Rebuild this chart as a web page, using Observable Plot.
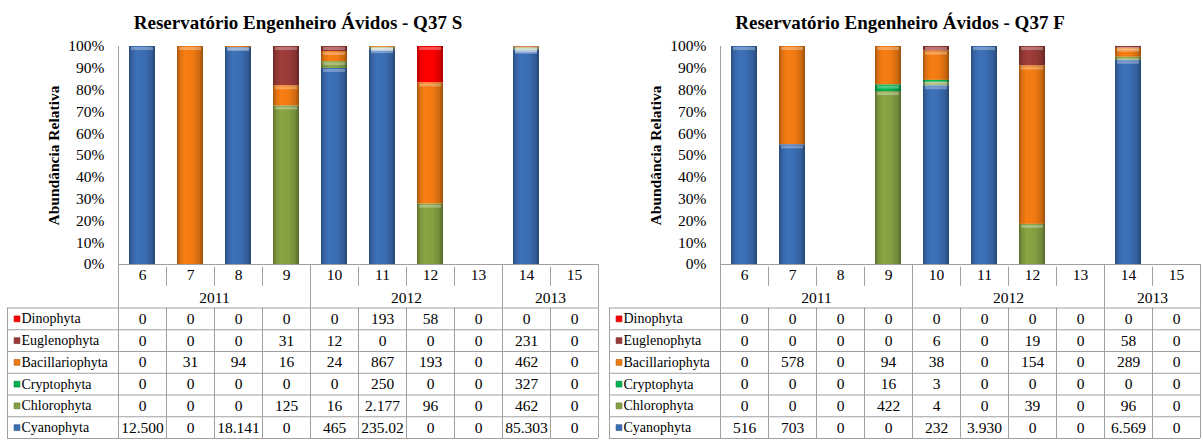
<!DOCTYPE html>
<html><head><meta charset="utf-8">
<script src="https://cdn.jsdelivr.net/npm/d3@7"></script>
<script src="https://cdn.jsdelivr.net/npm/@observablehq/plot@0.6"></script>
<style>
body{margin:0;background:#fff;width:1203px;height:441px;overflow:hidden;font-family:"Liberation Serif","Times New Roman",serif;color:#000;}
.panel{position:absolute;top:0;width:600px;height:441px;}
.title{position:absolute;top:11px;left:0;width:596px;text-align:center;font-weight:bold;font-size:19px;line-height:24px;}
svg text{font-family:"Liberation Serif","Times New Roman",serif !important;}
</style></head><body>
<svg width="0" height="0" style="position:absolute"><defs id="grads"></defs></svg>
<div id="root"></div>
<script>
// ---- categories ----
const months = ["6","7","8","9","10","11","12","13","14","15"];
const monthYears = ["2011","2011","2011","2011","2012","2012","2012","2012","2013","2013"];
const seriesNames = ["Dinophyta","Euglenophyta","Bacillariophyta","Cryptophyta","Chlorophyta","Cyanophyta"]; // table order
const seriesColors = ["#ff0000","#9a3b38","#f07a12","#00b050","#84a042","#3b6db3"];
const yLabel = "Abundância Relativa";

// ---- Q37 S ----
const titleS = "Reservatório Engenheiro Ávidos - Q37 S";
const sDinophyta       = [0, 0, 0, 0, 0, 193, 58, 0, 0, 0];
const sEuglenophyta    = [0, 0, 0, 31, 12, 0, 0, 0, 231, 0];
const sBacillariophyta = [0, 31, 94, 16, 24, 867, 193, 0, 462, 0];
const sCryptophyta     = [0, 0, 0, 0, 0, 250, 0, 0, 327, 0];
const sChlorophyta     = [0, 0, 0, 125, 16, 2177, 96, 0, 462, 0];
const sCyanophyta      = [12500, 0, 18141, 0, 465, 235020, 0, 0, 85303, 0];

// ---- Q37 F ----
const titleF = "Reservatório Engenheiro Ávidos - Q37 F";
const fDinophyta       = [0, 0, 0, 0, 0, 0, 0, 0, 0, 0];
const fEuglenophyta    = [0, 0, 0, 0, 6, 0, 19, 0, 58, 0];
const fBacillariophyta = [0, 578, 0, 94, 38, 0, 154, 0, 289, 0];
const fCryptophyta     = [0, 0, 0, 16, 3, 0, 0, 0, 0, 0];
const fChlorophyta     = [0, 0, 0, 422, 4, 0, 39, 0, 96, 0];
const fCyanophyta      = [516, 703, 0, 0, 232, 3930, 0, 0, 6569, 0];

const FONT = '"Liberation Serif","Times New Roman",serif';
const STYLE = 'background: transparent; color: #000; font-family: "Liberation Serif","Times New Roman",serif; font-size: 15.5px; overflow: visible;';
const GRID = "#a0a0a0";
const stackOrder = seriesNames.slice().reverse(); // Cyanophyta at bottom
const ptFormat = d3.formatLocale({decimal: ",", thousands: ".", grouping: [3], currency: ["R$", ""]}).format(",d");
// Excel clips cell text to the cell width (6 characters here)
const cellText = v => ptFormat(v).slice(0, 6);

// gradients for the 3-D looking bars
const defs = d3.select("#grads");
seriesNames.forEach((s, k) => {
  const c = d3.color(seriesColors[k]);
  const g = defs.append("linearGradient").attr("id", `grad-${s}`)
    .attr("x1", 0).attr("x2", 1).attr("y1", 0).attr("y2", 0);
  [[0, c.darker(1.0)], [0.12, c.darker(0.25)], [0.3, c.brighter(0.1)], [0.6, c], [0.85, c.darker(0.4)], [1, c.darker(1.2)]]
    .forEach(([o, col]) => g.append("stop").attr("offset", o).attr("stop-color", col.formatHex()));
});

function panel(titleText, cols, left) {
  const div = document.createElement("div");
  div.className = "panel";
  div.style.left = left + "px";
  const t = document.createElement("div");
  t.className = "title";
  t.textContent = titleText;
  div.appendChild(t);

  const data = [];
  seriesNames.forEach((s, r) => cols[r].forEach((v, i) =>
    data.push({series: s, row: r, i, month: months[i], year: monthYears[i], value: v})));

  const n = months.length;
  const chart = Plot.plot({
    width: 600, height: 238, marginTop: 10, marginBottom: 10, marginLeft: 118, marginRight: 2,
    style: STYLE,
    x: {domain: [0, n], axis: null},
    y: {domain: [0, 1]},
    color: {domain: seriesNames, range: seriesNames.map(s => `url(#grad-${s})`)},
    marks: [
      Plot.rectY(data, {x1: "i", x2: d => d.i + 1, y: "value", fill: "series", z: "series",
        offset: "normalize", order: stackOrder, insetLeft: 11, insetRight: 11}),
      Plot.ruleY(data, Plot.stackY2({filter: d => d.value > 0, x: "i", x1: "i", x2: d => d.i + 1, y: "value", z: "series",
        offset: "normalize", order: stackOrder, stroke: "white", strokeOpacity: 0.3, strokeWidth: 3, dy: 2,
        insetLeft: 13, insetRight: 13})),
      Plot.axisY({tickSize: 0, tickPadding: 14, ticks: 10, tickFormat: d3.format(".0%"), label: null,
        fontSize: 15.5, fontFamily: FONT}),
      Plot.ruleX([0], {stroke: GRID}),
      Plot.ruleY([0], {stroke: GRID}),
      Plot.text([yLabel], {frameAnchor: "left", textAnchor: "middle", rotate: -90, dx: -64, text: d => d,
        fontWeight: "bold", fontSize: 15.5, fontFamily: FONT})
    ]
  });
  chart.style.position = "absolute"; chart.style.top = "36px"; chart.style.left = "0px";
  div.appendChild(chart);

  // table
  const yearBounds = [0, ...months.map((m, i) => i).filter(i => i > 0 && monthYears[i] !== monthYears[i - 1]), n];
  const monthBounds = months.map((m, i) => i).filter(i => i > 0 && !yearBounds.includes(i));
  const yearGroups = d3.groups(months.map((m, i) => ({i, year: monthYears[i]})), d => d.year)
    .map(([year, g]) => ({year, x: (g[0].i + g[g.length - 1].i + 1) / 2}));
  const rows = seriesNames.length + 2;

  const table = Plot.plot({
    width: 600, height: 177, marginTop: 0, marginBottom: 3, marginLeft: 118, marginRight: 2,
    style: STYLE,
    x: {domain: [0, n], axis: null},
    y: {domain: [rows, 0], axis: null},
    color: {type: "identity"},
    marks: [
      Plot.ruleY([2, 3, 4, 5, 6, 7, 8], {x1: 0, x2: n, insetLeft: -111, stroke: GRID}),
      Plot.ruleX(d3.range(0, n + 1), {y1: 2, y2: rows, stroke: GRID}),
      Plot.ruleX(yearBounds, {y1: 0, y2: 2, stroke: GRID}),
      Plot.ruleX(monthBounds, {y1: 0.12, y2: 1, stroke: GRID}),
      Plot.ruleX([0], {y1: 2, y2: rows, dx: -111, stroke: GRID}),
      Plot.text(months, {x: (d, i) => i + 0.5, y: 0.5, text: d => d, fontFamily: FONT, fontSize: 15.5}),
      Plot.text(yearGroups, {x: "x", y: 1.55, text: "year", fontFamily: FONT, fontSize: 15.5}),
      Plot.text(data, {x: d => d.i + 0.5, y: d => d.row + 2.5, text: d => cellText(d.value), fontFamily: FONT, fontSize: 15.5}),
      Plot.dot(seriesNames, {x: 0, y: (d, i) => i + 2.5, dx: -101.5, symbol: "square", r: 3.3,
        fill: (d, i) => seriesColors[i], stroke: (d, i) => d3.color(seriesColors[i]).darker(0.8).formatHex(), strokeWidth: 0.6}),
      Plot.text(seriesNames, {x: 0, y: (d, i) => i + 2.5, dx: -97, textAnchor: "start", text: d => d,
        fontFamily: FONT, fontSize: 14})
    ]
  });
  table.style.position = "absolute"; table.style.top = "264px"; table.style.left = "0px";
  div.appendChild(table);
  return div;
}

const root = document.getElementById("root");
root.appendChild(panel(titleS, [sDinophyta, sEuglenophyta, sBacillariophyta, sCryptophyta, sChlorophyta, sCyanophyta], 0));
root.appendChild(panel(titleF, [fDinophyta, fEuglenophyta, fBacillariophyta, fCryptophyta, fChlorophyta, fCyanophyta], 602));
</script>
</body></html>
